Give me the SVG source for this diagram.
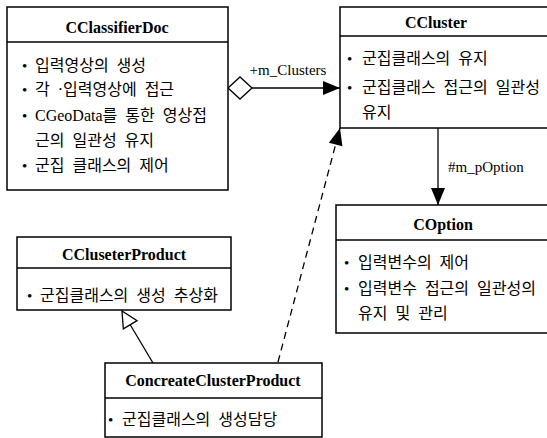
<svg xmlns="http://www.w3.org/2000/svg" width="547" height="438" viewBox="0 0 547 438">
<style>
.box{fill:#fff;stroke:#000;stroke-width:1.5}
.div{stroke:#000;stroke-width:1.3}
.title{font-family:"Liberation Serif","Noto Sans CJK KR",serif;font-size:16px;font-weight:bold;text-anchor:middle;fill:#000}
.body{font-family:"Liberation Serif","Noto Sans CJK KR",serif;font-size:16px;word-spacing:4px;fill:#000}
.bul{font-family:"Liberation Serif",serif;font-size:15px;fill:#000}
.lbl{font-family:"Liberation Serif","Noto Sans CJK KR",serif;font-size:15px;fill:#000}
.edge{fill:none;stroke:#000;stroke-width:1.3}
.dash{stroke-dasharray:7 5}
</style>
<defs>
<marker id="arrow" markerUnits="userSpaceOnUse" markerWidth="18" markerHeight="14" refX="17" refY="7" orient="auto" overflow="visible">
<path d="M0,0 L17,7 L0,14 z" fill="#000" stroke="none"/>
</marker>
<marker id="diamond" markerUnits="userSpaceOnUse" markerWidth="26" markerHeight="24" refX="0" refY="11" orient="auto" overflow="visible">
<path d="M0,11 L12,0 L24,11 L12,22 z" fill="#fff" stroke="#000" stroke-width="1.3" stroke-dasharray="none"/>
</marker>
<marker id="hollow" markerUnits="userSpaceOnUse" markerWidth="18" markerHeight="18" refX="16" refY="8" orient="auto" overflow="visible">
<path d="M0,0 L16,8 L0,16 z" fill="#fff" stroke="#000" stroke-width="1.3" stroke-dasharray="none"/>
</marker>
</defs>
<rect width="547" height="438" fill="#fff"/>

<g id="connectors">
<path class="edge" d="M228,88 L340,88" marker-start="url(#diamond)" marker-end="url(#arrow)"/>
<text class="lbl" x="288" y="75" text-anchor="middle">+m_Clusters</text>
<path class="edge" d="M438,128 L438,205" marker-end="url(#arrow)"/>
<text class="lbl" x="448" y="172">#m_pOption</text>
<path class="edge dash" d="M278,362 L340,128" marker-end="url(#arrow)"/>
<path class="edge" d="M153,363 L122,311" marker-end="url(#hollow)"/>
</g>

<g id="CClassifierDoc">
<rect class="box" x="7" y="7" width="221" height="183"/>
<line class="div" x1="7" y1="42" x2="228" y2="42"/>
<text class="title" x="117" y="33">CClassifierDoc</text>
<text class="body" y="71"><tspan class="bul" x="22">•</tspan><tspan x="35">입력영상의 생성</tspan></text>
<text class="body" y="95"><tspan class="bul" x="22">•</tspan><tspan x="35">각 ·입력영상에 접근</tspan></text>
<text class="body" y="121"><tspan class="bul" x="22">•</tspan><tspan x="35">CGeoData를 통한 영상접</tspan></text>
<text class="body" x="35" y="146">근의 일관성 유지</text>
<text class="body" y="171"><tspan class="bul" x="22">•</tspan><tspan x="35">군집 클래스의 제어</tspan></text>
</g>

<g id="CCluster">
<rect class="box" x="340" y="7" width="220" height="121"/>
<line class="div" x1="340" y1="36" x2="560" y2="36"/>
<text class="title" x="436" y="28">CCluster</text>
<text class="body" y="64"><tspan class="bul" x="347">•</tspan><tspan x="362">군집클래스의 유지</tspan></text>
<text class="body" y="93"><tspan class="bul" x="347">•</tspan><tspan x="362">군집클래스 접근의 일관성</tspan></text>
<text class="body" x="362" y="118">유지</text>
</g>

<g id="COption">
<rect class="box" x="336" y="205" width="224" height="128"/>
<line class="div" x1="336" y1="240" x2="560" y2="240"/>
<text class="title" x="443" y="230">COption</text>
<text class="body" y="268"><tspan class="bul" x="344">•</tspan><tspan x="358">입력변수의 제어</tspan></text>
<text class="body" y="294"><tspan class="bul" x="344">•</tspan><tspan x="358">입력변수 접근의 일관성의</tspan></text>
<text class="body" x="358" y="319">유지 및 관리</text>
</g>

<g id="CCluseterProduct">
<rect class="box" x="17" y="237" width="214" height="73"/>
<line class="div" x1="17" y1="268" x2="231" y2="268"/>
<text class="title" x="124" y="260">CCluseterProduct</text>
<text class="body" y="301"><tspan class="bul" x="27">•</tspan><tspan x="40">군집클래스의 생성 추상화</tspan></text>
</g>

<g id="ConcreateClusterProduct">
<rect class="box" x="105" y="363" width="217" height="74"/>
<line class="div" x1="105" y1="398" x2="322" y2="398"/>
<text class="title" x="213" y="386">ConcreateClusterProduct</text>
<text class="body" y="425"><tspan class="bul" x="108">•</tspan><tspan x="122">군집클래스의 생성담당</tspan></text>
</g>
</svg>
